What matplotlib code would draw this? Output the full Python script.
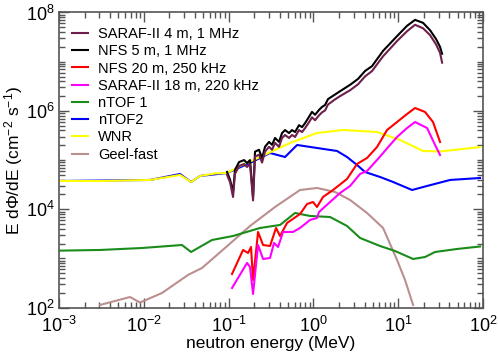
import numpy as np
import matplotlib
matplotlib.use("Agg")
import matplotlib.pyplot as plt
from matplotlib.ticker import FixedLocator, LogFormatterSciNotation, NullFormatter

plt.rcParams['font.family'] = ['Liberation Sans', 'DejaVu Sans']
plt.rcParams['mathtext.fontset'] = 'custom'
plt.rcParams['mathtext.rm'] = 'Liberation Sans'
plt.rcParams['mathtext.it'] = 'Liberation Sans:italic'

# log10(E / MeV), log10(flux)
saraf4_logE = [-1.019, -0.983, -0.948, -0.925, -0.877, -0.818, -0.783, -0.748, -0.712, -0.689,
               -0.642, -0.606, -0.571, -0.524, -0.488, -0.453, -0.406, -0.370, -0.335, -0.288,
               -0.252, -0.217, -0.170, -0.134, -0.099, -0.052, -0.017, 0.019, 0.066, 0.101,
               0.137, 0.172, 0.243, 0.314, 0.432, 0.526, 0.608, 0.691, 0.821, 0.986,
               1.104, 1.198, 1.292, 1.375, 1.446, 1.493, 1.517]
saraf4_logF = [4.70, 4.55, 4.25, 4.72, 4.88, 4.92, 4.86, 4.92, 4.18, 5.07,
               5.11, 4.95, 5.17, 5.27, 5.21, 5.35, 5.27, 5.45, 5.51, 5.45,
               5.51, 5.47, 5.61, 5.57, 5.65, 5.77, 5.87, 5.81, 5.91, 5.97,
               6.01, 6.13, 6.22, 6.30, 6.42, 6.54, 6.70, 6.81, 7.11, 7.42,
               7.62, 7.75, 7.68, 7.54, 7.35, 7.18, 6.98]

nfs5_logE = saraf4_logE
nfs5_logF = [4.76, 4.60, 4.35, 4.80, 4.96, 5.00, 4.94, 5.00, 4.25, 5.17,
             5.21, 5.04, 5.27, 5.37, 5.31, 5.45, 5.37, 5.55, 5.61, 5.55,
             5.61, 5.57, 5.71, 5.67, 5.75, 5.88, 5.98, 5.92, 6.02, 6.08,
             6.12, 6.24, 6.32, 6.40, 6.53, 6.65, 6.81, 6.91, 7.22, 7.52,
             7.73, 7.85, 7.79, 7.64, 7.46, 7.30, 7.16]

nfs20_logE = [-0.960, -0.830, -0.771, -0.736, -0.712, -0.653, -0.594, -0.512, -0.441, -0.394,
              -0.311, -0.158, -0.075, -0.005, 0.042, 0.113, 0.231, 0.396, 0.514, 0.632,
              0.750, 0.868, 0.986, 1.104, 1.198, 1.316, 1.410, 1.493]
nfs20_logF = [2.685, 3.173, 3.112, 3.234, 2.563, 3.539, 3.274, 3.254, 3.620, 3.457,
              3.722, 3.904, 4.108, 4.148, 4.047, 4.250, 4.392, 4.616, 4.921, 5.043,
              5.266, 5.612, 5.774, 5.937, 6.059, 5.978, 5.774, 5.368]

saraf18_logE = [-0.960, -0.783, -0.748, -0.712, -0.653, -0.594, -0.512, -0.465, -0.417, -0.358,
                -0.241, -0.158, -0.040, 0.042, 0.066, 0.196, 0.314, 0.432, 0.550, 0.632,
                0.750, 0.903, 0.986, 1.104, 1.198, 1.340, 1.434, 1.493]
saraf18_logF = [2.400, 2.909, 2.827, 2.278, 3.274, 2.990, 3.010, 3.315, 3.234, 3.539,
                3.539, 3.620, 3.783, 3.823, 3.945, 4.148, 4.331, 4.474, 4.718, 4.778,
                5.002, 5.307, 5.470, 5.652, 5.774, 5.652, 5.307, 5.104]

ntof1_logE = [-3.0, -2.517, -2.021, -1.550, -1.443, -1.196, -0.948, -0.630, -0.394, -0.217,
              -0.040, 0.196, 0.396, 0.550, 0.785, 0.962, 1.175, 1.316, 1.434, 1.693, 1.965]
ntof1_logF = [3.159, 3.173, 3.213, 3.274, 3.132, 3.376, 3.457, 3.620, 3.681, 3.925,
              3.864, 3.843, 3.661, 3.417, 3.254, 3.152, 2.990, 3.030, 3.132, 3.193, 3.244]

ntof2_logE = [-3.0, -1.927, -1.573, -1.443, -1.337, -1.019, -0.748, -0.512, -0.335, -0.193,
              0.042, 0.278, 0.396, 0.514, 0.608, 0.785, 0.939, 1.163, 1.340, 1.611, 1.965]
ntof2_logF = [4.575, 4.596, 4.717, 4.555, 4.677, 4.738, 4.941, 5.144, 5.063, 5.307,
              5.246, 5.185, 5.063, 4.901, 4.758, 4.657, 4.555, 4.392, 4.474, 4.596, 4.636]

wnr_logE = [-3.0, -2.517, -1.927, -1.573, -1.443, -1.337, -1.160, -1.019, -0.866, -0.630,
            -0.276, 0.042, 0.349, 0.750, 1.021, 1.292, 1.493, 1.965]
wnr_logF = [4.575, 4.575, 4.596, 4.697, 4.555, 4.677, 4.728, 4.738, 4.880, 5.063,
            5.348, 5.551, 5.612, 5.571, 5.409, 5.185, 5.175, 5.266]

geel_logE = [-2.517, -2.163, -2.045, -1.785, -1.479, -1.314, -1.043, -0.748, -0.453, -0.158,
             0.042, 0.255, 0.432, 0.632, 0.821, 0.986, 1.080, 1.175]
geel_logF = [2.055, 2.217, 2.105, 2.299, 2.665, 2.807, 3.213, 3.660, 4.046, 4.392,
             4.433, 4.352, 4.189, 3.925, 3.620, 2.970, 2.563, 2.055]

series = [
    ("SARAF-II 4 m, 1 MHz", saraf4_logE, saraf4_logF, "#6e1f4c"),
    ("NFS 5 m, 1 MHz", nfs5_logE, nfs5_logF, "black"),
    ("NFS 20 m, 250 kHz", nfs20_logE, nfs20_logF, "#ff0000"),
    ("SARAF-II 18 m, 220 kHz", saraf18_logE, saraf18_logF, "#ff00ff"),
    ("nTOF 1", ntof1_logE, ntof1_logF, "#1a8c1a"),
    ("nTOF2", ntof2_logE, ntof2_logF, "#0000ff"),
    ("WNR", wnr_logE, wnr_logF, "#ffff00"),
    ("Geel-fast", geel_logE, geel_logF, "#bc8f8f"),
]

fig = plt.figure(figsize=(4.98, 3.55), dpi=100)
ax = fig.add_axes([0.1185, 0.1333, 0.8515, 0.8315])

# draw order: background curves first, black on top of purple
order = [7, 4, 5, 6, 2, 3, 1, 0]
lines = {}
for i in order:
    name, lx, ly, col = series[i]
    ln, = ax.plot(10 ** np.array(lx), 10 ** np.array(ly), color=col, lw=1.5,
                  solid_joinstyle='round', label=name)
    lines[i] = ln

ax.set_xscale('log')
ax.set_yscale('log')
ax.set_xlim(1e-3, 1e2)
ax.set_ylim(1e2, 1e8)

ax.xaxis.set_major_locator(FixedLocator([10.0 ** k for k in range(-3, 3)]))
ax.xaxis.set_minor_locator(FixedLocator([m * 10.0 ** k for k in range(-3, 2) for m in range(2, 10)]))
ax.yaxis.set_major_locator(FixedLocator([1e2, 1e4, 1e6, 1e8]))
ax.yaxis.set_minor_locator(FixedLocator([m * 10.0 ** k for k in range(2, 8) for m in range(1, 10)
                                         if not (m == 1 and k % 2 == 0)]))
ax.xaxis.set_major_formatter(LogFormatterSciNotation())
ax.yaxis.set_major_formatter(LogFormatterSciNotation())
ax.xaxis.set_minor_formatter(NullFormatter())
ax.yaxis.set_minor_formatter(NullFormatter())

ax.tick_params(which='both', direction='in', top=True, right=True, color='#555555')
ax.tick_params(which='major', length=7, width=1.0, labelsize=13)
ax.tick_params(axis='x', which='major', pad=6)
ax.tick_params(axis='y', which='major', pad=3)
ax.tick_params(which='minor', length=4, width=1.0)
for sp in ax.spines.values():
    sp.set_color('#555555')
    sp.set_linewidth(1.2)

ax.set_xlabel('neutron energy (MeV)', fontsize=12.5, labelpad=0)
ax.set_ylabel(r'E d$\Phi$/dE (cm$^{-2}$ s$^{-1}$)', fontsize=12.5, labelpad=1)

handles = [lines[i] for i in range(8)]
ax.legend(handles=handles, loc='upper left', frameon=False, fontsize=10.5,
          handlelength=1.1, handletextpad=0.7, labelspacing=0.22,
          borderaxespad=0.2, bbox_to_anchor=(0.01, 0.98))

fig.savefig('out.png', dpi=100)
